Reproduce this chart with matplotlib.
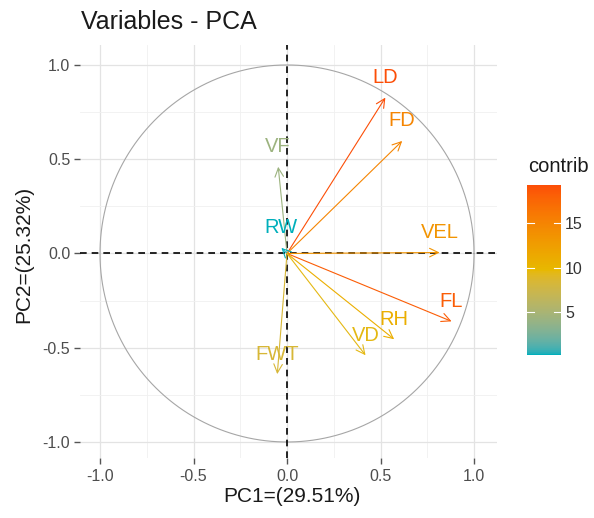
import numpy as np
import matplotlib
matplotlib.use("Agg")
from matplotlib import pyplot as plt
from matplotlib.colors import ListedColormap, Normalize, to_rgb
from matplotlib.ticker import MultipleLocator

plt.rcParams["font.family"] = ["Liberation Sans", "DejaVu Sans"]

# variable coordinates on PC1 / PC2
variables = ["LD", "FD", "VF", "RW", "VEL", "FL", "RH", "VD", "FWT"]
pc1 = [0.526, 0.616, -0.047, -0.030, 0.816, 0.880, 0.573, 0.420, -0.052]
pc2 = [0.827, 0.597, 0.460, 0.030, 0.005, -0.360, -0.455, -0.540, -0.640]
contrib = [19.3, 14.9, 4.3, 0.2, 13.5, 18.3, 10.8, 9.5, 8.4]

title = "Variables - PCA"
xlabel = "PC1=(29.51%)"
ylabel = "PC2=(25.32%)"
legend_title = "contrib"
cbar_ticks = [5, 10, 15]
grad_cols = ["#00AFBB", "#E7B800", "#FC4E07"]


# ggplot interpolates gradients in CIELAB, do the same
def srgb_to_lab(rgb):
    c = np.asarray(rgb, float)
    c = np.where(c <= 0.04045, c / 12.92, ((c + 0.055) / 1.055) ** 2.4)
    m = np.array([[0.4124, 0.3576, 0.1805],
                  [0.2126, 0.7152, 0.0722],
                  [0.0193, 0.1192, 0.9505]])
    xyz = m @ c / np.array([0.95047, 1.0, 1.08883])
    f = np.where(xyz > 0.008856, np.cbrt(xyz), 7.787 * xyz + 16 / 116)
    return np.array([116 * f[1] - 16, 500 * (f[0] - f[1]), 200 * (f[1] - f[2])])


def lab_to_srgb(lab):
    L, a, b = lab
    fy = (L + 16) / 116
    fx = fy + a / 500
    fz = fy - b / 200
    f = np.array([fx, fy, fz])
    xyz = np.where(f ** 3 > 0.008856, f ** 3, (f - 16 / 116) / 7.787)
    xyz = xyz * np.array([0.95047, 1.0, 1.08883])
    mi = np.array([[3.2406, -1.5372, -0.4986],
                   [-0.9689, 1.8758, 0.0415],
                   [0.0557, -0.2040, 1.0570]])
    c = mi @ xyz
    c = np.where(c <= 0.0031308, 12.92 * c, 1.055 * np.clip(c, 0, None) ** (1 / 2.4) - 0.055)
    return np.clip(c, 0, 1)


labs = [srgb_to_lab(to_rgb(c)) for c in grad_cols]
ramp = []
for t in np.linspace(0, 1, 256):
    seg = min(int(t * 2), 1)
    u = t * 2 - seg
    ramp.append(lab_to_srgb(labs[seg] * (1 - u) + labs[seg + 1] * u))
grad = ListedColormap(ramp)
norm = Normalize(vmin=min(contrib), vmax=max(contrib))

fig = plt.figure(figsize=(5.94, 5.18), dpi=100)
W, H = 594, 518
ax = fig.add_axes([80 / W, 1 - 458 / H, (497 - 80) / W, (458 - 45) / H])
ax.set_xlim(-1.107, 1.123)
ax.set_ylim(-1.085, 1.106)

# grid, theme_minimal style
ax.xaxis.set_minor_locator(MultipleLocator(0.25))
ax.yaxis.set_minor_locator(MultipleLocator(0.25))
ax.grid(which="major", color="#e3e3e3", lw=0.9)
ax.grid(which="minor", color="#f0f0f0", lw=0.6)
ax.set_axisbelow(True)
for s in ax.spines.values():
    s.set_visible(False)
ax.tick_params(which="major", length=4, width=1, color="#555555",
               labelcolor="#4d4d4d", labelsize=11.5)
ax.tick_params(axis="x", pad=4)
ax.tick_params(axis="y", pad=3)
ax.tick_params(which="minor", length=0)
ax.set_xticks([-1.0, -0.5, 0.0, 0.5, 1.0])
ax.set_yticks([-1.0, -0.5, 0.0, 0.5, 1.0])
ax.set_xticklabels(["-1.0", "-0.5", "0.0", "0.5", "1.0"])
ax.set_yticklabels(["-1.0", "-0.5", "0.0", "0.5", "1.0"])

# correlation circle
t = np.linspace(0, 2 * np.pi, 400)
ax.plot(np.cos(t), np.sin(t), color="#a6a6a6", lw=0.8, zorder=2)

ax.axhline(0, color="black", lw=1.2, ls=(0, (4, 3)), zorder=3)
ax.axvline(0, color="black", lw=1.2, ls=(0, (4, 3)), zorder=3)

for name, x, y, c in zip(variables, pc1, pc2, contrib):
    col = grad(norm(c))
    ax.annotate("", xy=(x, y), xytext=(0, 0),
                arrowprops=dict(arrowstyle="->,head_length=0.45,head_width=0.22",
                                color=col, lw=0.8, shrinkA=0, shrinkB=0,
                                mutation_scale=14), zorder=4)
    ax.annotate(name, xy=(x, y), xytext=(0, 20), textcoords="offset pixels",
                ha="center", va="center", color=col, fontsize=14.5, zorder=5)

fig.text(292 / W, 1 - 497 / H, xlabel, fontsize=15, color="#1a1a1a",
         ha="center", va="center")
fig.text(24 / W, 1 - 254 / H, ylabel, fontsize=15, color="#1a1a1a",
         ha="center", va="center", rotation=90)
fig.text(81 / W, 1 - 22 / H, title, fontsize=18, color="#1a1a1a",
         ha="left", va="center")

# colour legend
cax = fig.add_axes([527 / W, 1 - 355 / H, (561 - 527) / W, (355 - 185) / H])
sm = plt.cm.ScalarMappable(norm=norm, cmap=grad)
cb = fig.colorbar(sm, cax=cax, ticks=cbar_ticks)
cb.outline.set_visible(False)
cax.tick_params(length=0, labelsize=11.5, labelcolor="#333333", pad=3)
for v in cbar_ticks:
    cax.plot([0, 0.2], [v, v], color="white", lw=0.8, transform=cax.get_yaxis_transform())
    cax.plot([0.8, 1.0], [v, v], color="white", lw=0.8, transform=cax.get_yaxis_transform())
fig.text(528 / W, 1 - 167 / H, legend_title, fontsize=14.5, color="#1a1a1a",
         ha="left", va="center")

fig.savefig("out.png", dpi=100)
